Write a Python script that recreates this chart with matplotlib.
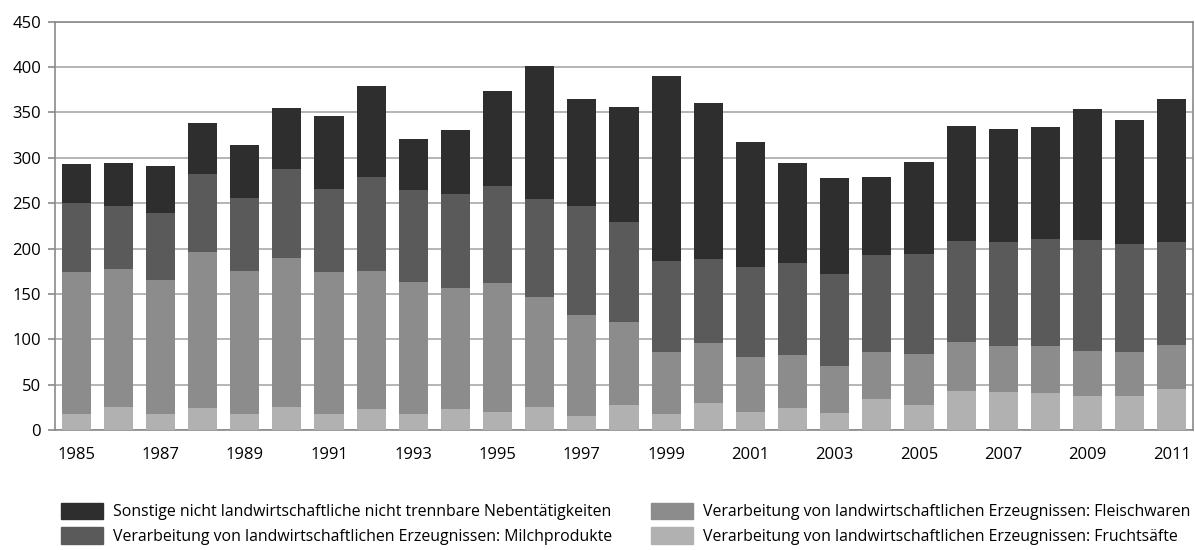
import matplotlib
matplotlib.use("Agg")
import matplotlib.pyplot as plt
import numpy as np
from matplotlib.patches import Patch

years = list(range(1985, 2012))
fruchtsaefte = [17.6, 25, 17.6, 24, 17.6, 25, 17.6, 23, 17.6, 23, 20, 25, 15.4, 27.5,
                17.6, 30, 20, 24, 18.7, 34, 27.5, 43, 42, 41, 37.5, 37.5, 45]
fleischwaren = [156.4, 152, 147.4, 172, 157.4, 165, 156.4, 152, 145.4, 133.5, 142, 122, 111.6, 91.5,
                68.4, 66, 60, 59, 51.8, 52, 56.5, 54, 50.6, 51.6, 49.5, 48.5, 49]
milchprodukte = [76, 70, 74, 86, 81, 98, 92, 104, 102, 103.5, 107, 108, 120, 110,
                 100, 92, 100, 101, 101.5, 107, 110, 111, 114.4, 117.9, 122, 119, 113]
sonstige = [43, 47, 52, 56, 58, 67, 80, 100, 56, 71, 105, 146, 118, 127,
            204, 172, 137, 110, 106, 86, 101, 127, 125, 123.5, 145, 137, 158]

labels = [
    "Sonstige nicht landwirtschaftliche nicht trennbare Nebentätigkeiten",
    "Verarbeitung von landwirtschaftlichen Erzeugnissen: Milchprodukte",
    "Verarbeitung von landwirtschaftlichen Erzeugnissen: Fleischwaren",
    "Verarbeitung von landwirtschaftlichen Erzeugnissen: Fruchtsäfte",
]
colors = {"sonstige": "#2e2e2e", "milch": "#5a5a5a", "fleisch": "#8c8c8c", "frucht": "#b1b1b1"}

plt.rcParams['font.family'] = ['Open Sans', 'DejaVu Sans']

fig = plt.figure(figsize=(11.95, 5.5), dpi=100)
ax = fig.add_axes([55/1195, 1 - 430/550, (1193 - 55)/1195, (430 - 21.7)/550])

x = np.arange(len(years))
w = 0.69
b1 = np.array(fruchtsaefte)
b2 = b1 + np.array(fleischwaren)
b3 = b2 + np.array(milchprodukte)
ax.bar(x, fruchtsaefte, w, color=colors["frucht"], zorder=3)
ax.bar(x, fleischwaren, w, bottom=b1, color=colors["fleisch"], zorder=3)
ax.bar(x, milchprodukte, w, bottom=b2, color=colors["milch"], zorder=3)
ax.bar(x, sonstige, w, bottom=b3, color=colors["sonstige"], zorder=3)

ax.set_xlim(-0.5, len(years) - 0.5)
ax.set_ylim(0, 450)
ax.set_yticks(range(0, 451, 50))
ax.set_xticks(x[::2])
ax.set_xticklabels([str(y) for y in years[::2]])
ax.tick_params(axis='y', labelsize=12, length=5, color='#8a8a8a', width=1.2, pad=5)
ax.tick_params(axis='x', labelsize=12, length=0, pad=12)
ax.grid(axis='y', color='#a0a0a0', linewidth=1.1, zorder=0)
for s in ax.spines.values():
    s.set_color('#8a8a8a')
    s.set_linewidth(1.2)

handles = [Patch(color=colors["sonstige"]), Patch(color=colors["milch"]),
           Patch(color=colors["fleisch"]), Patch(color=colors["frucht"])]
fs = 11.4
common = dict(loc='upper left', frameon=False, fontsize=fs, handlelength=42 / (fs * 100 / 72),
              handleheight=19 / (fs * 100 / 72), handletextpad=10 / (fs * 100 / 72),
              labelspacing=7 / (fs * 100 / 72), borderpad=0, borderaxespad=0)
fig.legend(handles[:2], labels[:2], bbox_to_anchor=(61/1195, 1 - 503/550), **common)
fig.legend(handles[2:], labels[2:], bbox_to_anchor=(651/1195, 1 - 503/550), **common)

fig.savefig("out.png", dpi=100)
